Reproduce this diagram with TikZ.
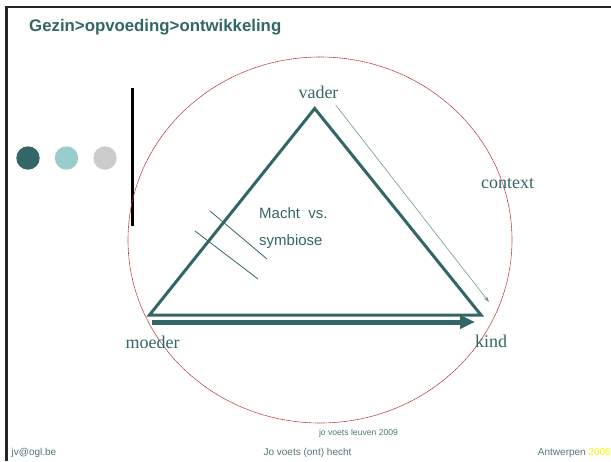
\documentclass[tikz,border=0pt]{standalone}
\usepackage{fontspec}
\setmainfont{Liberation Serif}
\setsansfont{Liberation Sans}
\usetikzlibrary{arrows.meta}
\definecolor{tealc}{RGB}{51,102,102}
\definecolor{lightteal}{RGB}{153,204,204}
\definecolor{lgrey}{RGB}{204,204,204}
\definecolor{footc}{RGB}{80,118,118}
\definecolor{ringred}{RGB}{180,50,50}
\definecolor{thinarrow}{RGB}{110,150,150}
\begin{document}
\begin{tikzpicture}[x=1pt,y=-1pt,
  serlabel/.style={inner sep=0pt, text=tealc, font=\rmfamily\fontsize{18}{18}\selectfont},
  sanslabel/.style={inner sep=0pt, text=tealc, font=\sffamily\fontsize{15}{15}\selectfont, anchor=west},
  foot/.style={inner sep=0pt, text=footc, font=\sffamily\fontsize{10}{10}\selectfont},
  dot/.style={circle, inner sep=0pt, minimum size=23.4pt, draw=none}
]
\useasboundingbox (0,0) rectangle (611,461);
% frame
\draw[line width=2.5pt, black!85] (6.5,461) -- (6.5,7) -- (611,7);
% title
\node[inner sep=0pt, anchor=west, text=tealc, font=\sffamily\bfseries\fontsize{16.8}{16.8}\selectfont] (title) at (29,27) {Gezin>opvoeding>ontwikkeling};
% dots and bar
\node[dot, fill=tealc] (d1) at (28,158) {};
\node[dot, fill=lightteal] (d2) at (66.5,158) {};
\node[dot, fill=lgrey] (d3) at (105,158) {};
\coordinate (bartop) at (132.3,88);
\coordinate (barbot) at (132.3,226);
\draw[line width=3pt, black] (bartop) -- (barbot);
% context ring
\coordinate (ringc) at (320,240);
\draw[ringred, line width=0.6pt, dash pattern=on 1.6pt off 0.5pt] (ringc) ellipse [x radius=192, y radius=183];
% triangle
\coordinate (V) at (314.7,108.5);
\coordinate (M) at (149.5,315);
\coordinate (K) at (481,315);
\draw[tealc, line width=3pt, line join=miter] (V) -- (M) -- (K) -- cycle;
% thick arrow moeder -> kind
\coordinate (a1) at (152,322);
\coordinate (a2) at (475,322);
\draw[tealc, line width=5pt, -{Triangle[length=15pt,width=13pt]}] (a1) -- (a2);
% thin arrow vader -> kind
\coordinate (t1) at (335.7,105);
\coordinate (t2) at (489,302);
\draw[thinarrow, line width=0.6pt, -{Stealth[length=6pt,width=4pt]}] (t1) -- (t2);
% crossing lines
\coordinate (c1a) at (210,211);
\coordinate (c1b) at (267,259);
\coordinate (c2a) at (195,231);
\coordinate (c2b) at (258,279);
\draw[tealc, line width=0.8pt] (c1a) -- (c1b);
\draw[tealc, line width=0.8pt] (c2a) -- (c2b);
% labels
\node[serlabel] (vader) at (318.5,92) {vader};
\node[serlabel] (context) at (507.5,184) {context};
\node[serlabel] (moeder) at (152.5,342) {moeder};
\node[serlabel] (kind) at (491,341) {kind};
\node[sanslabel] (macht) at (259,213) {Macht\ \ vs.};
\node[sanslabel] (symb) at (259,242) {symbiose};
% footer
\node[inner sep=0pt, text=footc, font=\sffamily\fontsize{8.6}{8.6}\selectfont] (jo) at (358.5,433) {jo voets leuven 2009};
\node[foot, anchor=west] (mail) at (11.5,453) {jv@ogl.be};
\node[foot] (hecht) at (307.5,453) {Jo voets (ont) hecht};
\node[foot, anchor=east] (antw) at (611,453) {Antwerpen \textcolor{yellow}{2006}};
\end{tikzpicture}
\end{document}
